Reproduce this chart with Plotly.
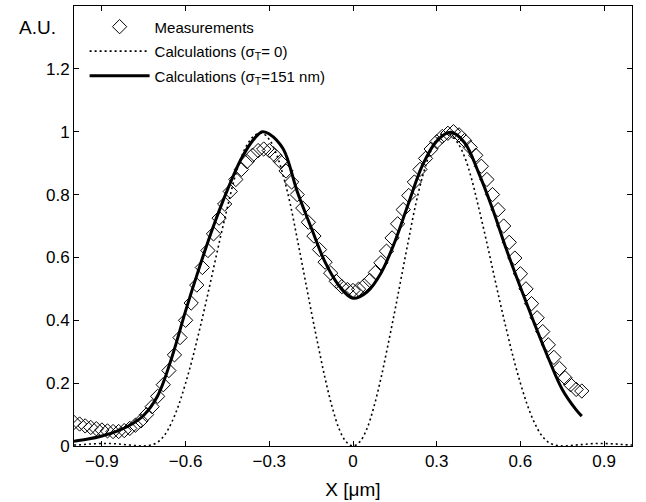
import plotly.graph_objects as go

# ---- data ----
meas_x = [-1.00, -0.98, -0.96, -0.94, -0.92, -0.90, -0.88, -0.86, -0.84, -0.82,
          -0.80, -0.78, -0.76, -0.74, -0.72, -0.70, -0.68, -0.66, -0.64, -0.62,
          -0.60, -0.58, -0.56, -0.54, -0.52, -0.50, -0.48, -0.46, -0.44, -0.42,
          -0.40, -0.38, -0.36, -0.34, -0.32, -0.30, -0.28, -0.26, -0.24, -0.22,
          -0.20, -0.18, -0.16, -0.14, -0.12, -0.10, -0.08, -0.06, -0.04, -0.02,
          0.00, 0.02, 0.04, 0.06, 0.08, 0.10, 0.12, 0.14, 0.16, 0.18,
          0.20, 0.22, 0.24, 0.26, 0.28, 0.30, 0.32, 0.34, 0.36, 0.38,
          0.40, 0.42, 0.44, 0.46, 0.48, 0.50, 0.52, 0.54, 0.56, 0.58,
          0.60, 0.62, 0.64, 0.66, 0.68, 0.70, 0.72, 0.74, 0.76, 0.78,
          0.80, 0.82]
meas_y = [0.075, 0.070, 0.064, 0.059, 0.055, 0.051, 0.048, 0.046, 0.046, 0.049,
          0.056, 0.066, 0.080, 0.100, 0.125, 0.158, 0.195, 0.240, 0.290, 0.345,
          0.400, 0.455, 0.512, 0.568, 0.622, 0.675, 0.725, 0.770, 0.810, 0.848,
          0.880, 0.905, 0.925, 0.940, 0.945, 0.940, 0.925, 0.905, 0.875, 0.840,
          0.800, 0.757, 0.712, 0.668, 0.625, 0.585, 0.550, 0.524, 0.507, 0.498,
          0.495, 0.499, 0.510, 0.527, 0.552, 0.583, 0.620, 0.662, 0.707, 0.752,
          0.797, 0.840, 0.880, 0.915, 0.945, 0.968, 0.985, 0.995, 1.000, 0.990,
          0.972, 0.950, 0.925, 0.890, 0.848, 0.800, 0.752, 0.700, 0.648, 0.598,
          0.548, 0.500, 0.453, 0.408, 0.364, 0.322, 0.282, 0.247, 0.217, 0.195,
          0.180, 0.175]

calc0_x = [-1.000, -0.975, -0.950, -0.925, -0.900, -0.875, -0.850, -0.825, -0.800, -0.775,
           -0.750, -0.725, -0.700, -0.675, -0.650, -0.625, -0.600, -0.575, -0.550, -0.525,
           -0.500, -0.475, -0.450, -0.425, -0.400, -0.375, -0.350, -0.325, -0.300, -0.275,
           -0.250, -0.225, -0.200, -0.175, -0.150, -0.125, -0.100, -0.075, -0.050, -0.025,
           0.000, 0.025, 0.050, 0.075, 0.100, 0.125, 0.150, 0.175, 0.200, 0.225,
           0.250, 0.275, 0.300, 0.325, 0.350, 0.375, 0.400, 0.425, 0.450, 0.475,
           0.500, 0.525, 0.550, 0.575, 0.600, 0.625, 0.650, 0.675, 0.700, 0.725,
           0.750, 0.775, 0.800, 0.825, 0.850, 0.875, 0.900, 0.925, 0.950, 0.975,
           1.000]
calc0_y = [0.003, 0.004, 0.006, 0.007, 0.008, 0.008, 0.007, 0.005, 0.003, 0.001,
           0.000, 0.003, 0.012, 0.035, 0.075, 0.130, 0.200, 0.280, 0.370, 0.465,
           0.565, 0.665, 0.760, 0.850, 0.920, 0.965, 0.990, 0.995, 0.975, 0.930,
           0.860, 0.770, 0.660, 0.545, 0.430, 0.320, 0.215, 0.125, 0.055, 0.014,
           0.000, 0.014, 0.055, 0.125, 0.215, 0.320, 0.430, 0.545, 0.660, 0.770,
           0.860, 0.930, 0.975, 0.995, 0.990, 0.965, 0.920, 0.850, 0.760, 0.665,
           0.565, 0.465, 0.370, 0.280, 0.200, 0.130, 0.075, 0.035, 0.012, 0.003,
           0.000, 0.001, 0.003, 0.005, 0.007, 0.008, 0.008, 0.007, 0.006, 0.004,
           0.003]

calc151_x = [-1.00, -0.95, -0.90, -0.85, -0.80, -0.75, -0.70, -0.65, -0.60, -0.55,
             -0.50, -0.45, -0.40, -0.35, -0.325, -0.30, -0.25, -0.20, -0.15, -0.10,
             -0.05, 0.00, 0.05, 0.10, 0.15, 0.20, 0.25, 0.30, 0.35, 0.40,
             0.45, 0.50, 0.55, 0.60, 0.65, 0.70, 0.75, 0.80, 0.82]
calc151_y = [0.015, 0.022, 0.032, 0.046, 0.066, 0.098, 0.160, 0.280, 0.430, 0.570,
             0.700, 0.815, 0.915, 0.982, 1.000, 0.993, 0.945, 0.810, 0.695, 0.585,
             0.510, 0.470, 0.490, 0.550, 0.650, 0.775, 0.895, 0.970, 0.998, 0.965,
             0.870, 0.755, 0.625, 0.505, 0.390, 0.280, 0.180, 0.115, 0.095]

x_ticks = [-0.9, -0.6, -0.3, 0, 0.3, 0.6, 0.9]
y_ticks = [0, 0.2, 0.4, 0.6, 0.8, 1, 1.2]

FONT = "Liberation Sans, Arial, Helvetica, sans-serif"

fig = go.Figure()
fig.add_trace(go.Scatter(
    x=meas_x, y=meas_y, mode="markers", name="Measurements", legendgroup="a",
    marker=dict(symbol="diamond-open", size=11, color="black",
                line=dict(width=1, color="black")),
))
fig.add_trace(go.Scatter(
    x=calc0_x, y=calc0_y, mode="lines", name="Calculations (σ<sub>T</sub>= 0)",
    legendgroup="b",
    line=dict(color="black", width=1.6, dash="2px,3px", shape="spline"),
))
fig.add_trace(go.Scatter(
    x=calc151_x, y=calc151_y, mode="lines", name="Calculations (σ<sub>T</sub>=151 nm)",
    legendgroup="c",
    line=dict(color="black", width=3, shape="spline"),
))

axis_common = dict(
    showline=True, linecolor="black", linewidth=1, mirror="ticks",
    ticks="inside", ticklen=5, tickcolor="black", tickwidth=1,
    showgrid=False, zeroline=False,
    tickfont=dict(family=FONT, size=17, color="black"),
)

fig.update_layout(
    width=646, height=502,
    margin=dict(l=74, r=14, t=5, b=55),
    paper_bgcolor="white", plot_bgcolor="white",
    font=dict(family=FONT, size=15, color="black"),
    showlegend=True,
    legend=dict(x=0.019, y=0.99, xanchor="left", yanchor="top",
                bgcolor="rgba(0,0,0,0)", borderwidth=0,
                font=dict(family=FONT, size=15, color="black"),
                itemwidth=60, tracegroupgap=2),
    xaxis=dict(range=[-1, 1], tickvals=x_ticks,
               title=dict(text="X [μm]", font=dict(family=FONT, size=19), standoff=12),
               **axis_common),
    yaxis=dict(range=[0, 1.4], tickvals=y_ticks, **axis_common),
    annotations=[dict(text="A.U.", xref="paper", yref="paper", x=-0.066, y=0.952,
                      xanchor="center", yanchor="middle", showarrow=False,
                      font=dict(family=FONT, size=19, color="black"))],
)

fig.write_html("out.html", config={"displayModeBar": False},
               post_script="document.body.style.margin='0';")
